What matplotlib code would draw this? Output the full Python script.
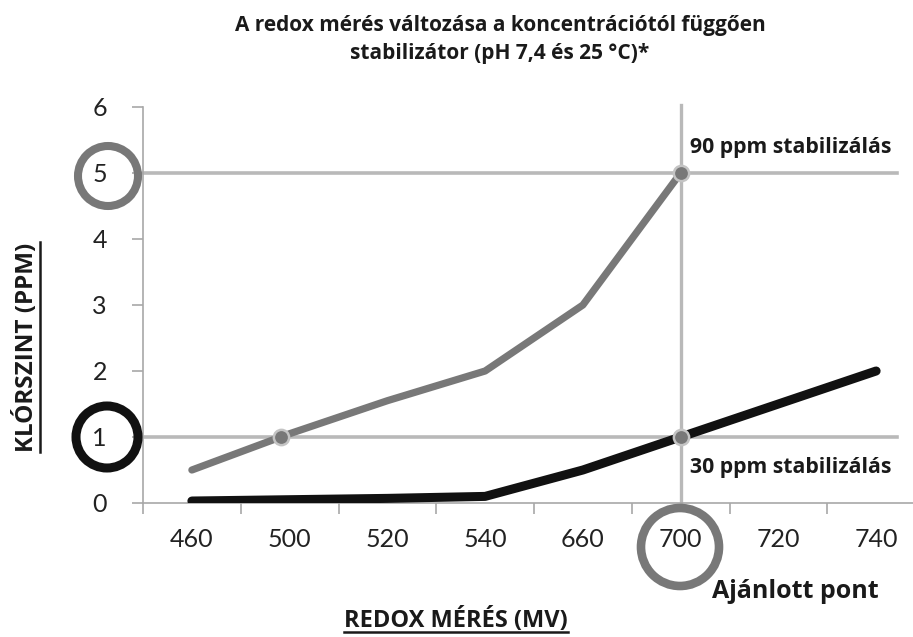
import matplotlib.pyplot as plt
import numpy as np
from matplotlib.patches import Ellipse
from matplotlib.lines import Line2D

# Redox reading (mV) categories and chlorine level (ppm) for both stabilizer levels
redox_mv = ["460", "500", "520", "540", "660", "700", "720", "740"]
chlorine_90ppm = [0.5, 1.05, 1.55, 2.0, 3.0, 5.0]
chlorine_30ppm = [0.03, 0.05, 0.07, 0.1, 0.5, 1.0, 1.5, 2.0]
y_ticks = [0, 1, 2, 3, 4, 5, 6]
recommended = "700"

W, H = 913, 637
fig = plt.figure(figsize=(W / 100, H / 100), dpi=100)
ax = fig.add_axes([143 / W, 1 - 503 / H, 782 / W, 396 / H])

x = np.arange(len(redox_mv))
rec_i = redox_mv.index(recommended)

bold = dict(family=["Open Sans", "DejaVu Sans"], weight="bold", color="#1a1a1a")
light_grey = "#b9b9b9"
mid_grey = "#787878"

# reference lines at 1 ppm and 5 ppm plus the recommended redox point
for lvl in (1, 5):
    ax.plot([-0.5, 7.21], [lvl, lvl], color=light_grey, lw=2.6, zorder=1,
            clip_on=False)
ax.plot([rec_i, rec_i], [0, 6.03], color=light_grey, lw=2.4, zorder=1,
        clip_on=False)

ax.plot(x[:len(chlorine_90ppm)], chlorine_90ppm, color=mid_grey, lw=5.2,
        solid_capstyle="round", solid_joinstyle="round", zorder=3)
ax.plot(x, chlorine_30ppm, color="#111111", lw=6.5,
        solid_capstyle="round", solid_joinstyle="round", zorder=3)

# crossing of the 90 ppm curve with the 1 ppm line
cross_x = np.interp(1.0, chlorine_90ppm, x[:len(chlorine_90ppm)])
marks_x = [cross_x, rec_i, rec_i]
marks_y = [1.0, chlorine_90ppm[rec_i], chlorine_30ppm[rec_i]]
ax.plot(marks_x, marks_y, "o", ms=11, mfc=mid_grey, mec="#c4c4c4", mew=1.8,
        zorder=4)

ax.set_xlim(-0.5, len(redox_mv) - 0.5)
ax.set_ylim(0, 6)
ax.set_xticks(np.arange(len(redox_mv) + 1) - 0.5, minor=False)
ax.set_xticklabels([])
ax.set_xticks(x, minor=True)
ax.set_xticklabels(redox_mv, minor=True)
ax.tick_params(axis="x", which="major", length=8, color="#a8a8a8", width=1.2)
ax.tick_params(axis="x", which="minor", length=0, pad=18, labelsize=18,
               labelcolor="#222222")
ax.set_yticks(y_ticks)
ax.tick_params(axis="y", length=8, color="#a8a8a8", width=1.2, pad=18,
               labelsize=18, labelcolor="#222222")
for lab in ax.get_xticklabels(minor=True) + ax.get_yticklabels():
    lab.set_family(["Lato", "DejaVu Sans"])

for side in ("top", "right"):
    ax.spines[side].set_visible(False)
for side in ("left", "bottom"):
    ax.spines[side].set_color("#a8a8a8")
    ax.spines[side].set_linewidth(1.2)

fig.text(500 / W, 1 - 25 / H, "A redox mérés változása a koncentrációtól függően",
         ha="center", va="center", fontsize=15, **bold)
fig.text(500 / W, 1 - 53 / H, "stabilizátor (pH 7,4 és 25 °C)*",
         ha="center", va="center", fontsize=15, **bold)

fig.text(690 / W, 1 - 147 / H, "90 ppm stabilizálás", ha="left", va="center",
         fontsize=15.3, **bold)
fig.text(690 / W, 1 - 467 / H, "30 ppm stabilizálás", ha="left", va="center",
         fontsize=15.3, **bold)
fig.text(795 / W, 1 - 591 / H, "Ajánlott pont", ha="center", va="center",
         fontsize=18, **bold)

ylab = fig.text(26 / W, 1 - 347 / H, "KLÓRSZINT (PPM)", rotation=90,
                ha="center", va="center", fontsize=17.5, **bold)
xlab = fig.text(456 / W, 1 - 620 / H, "REDOX MÉRÉS (MV)", ha="center",
                va="center", fontsize=17, **bold)


# rings highlighting the key values
def ring(cx, cy, r, color, lw):
    fig.patches.append(Ellipse((cx / W, 1 - cy / H), 2 * r / W, 2 * r / H,
                               transform=fig.transFigure, fill=False,
                               ec=color, lw=lw, zorder=5))


ring(108, 176, 30, mid_grey, 5.8)
ring(107, 437, 31, "#111111", 6.5)
ring(680, 547, 39, mid_grey, 6.2)

# underline the axis titles
fig.canvas.draw()
r = fig.canvas.get_renderer()
bb = ylab.get_window_extent(r)
fig.lines.append(Line2D([bb.x1 + 1, bb.x1 + 1], [bb.y0, bb.y1], color="#1a1a1a",
                        lw=1.8, transform=None))
bb = xlab.get_window_extent(r)
fig.lines.append(Line2D([bb.x0, bb.x1], [bb.y0 + 1, bb.y0 + 1], color="#1a1a1a",
                        lw=1.8, transform=None))

fig.savefig("out.png", dpi=100)
